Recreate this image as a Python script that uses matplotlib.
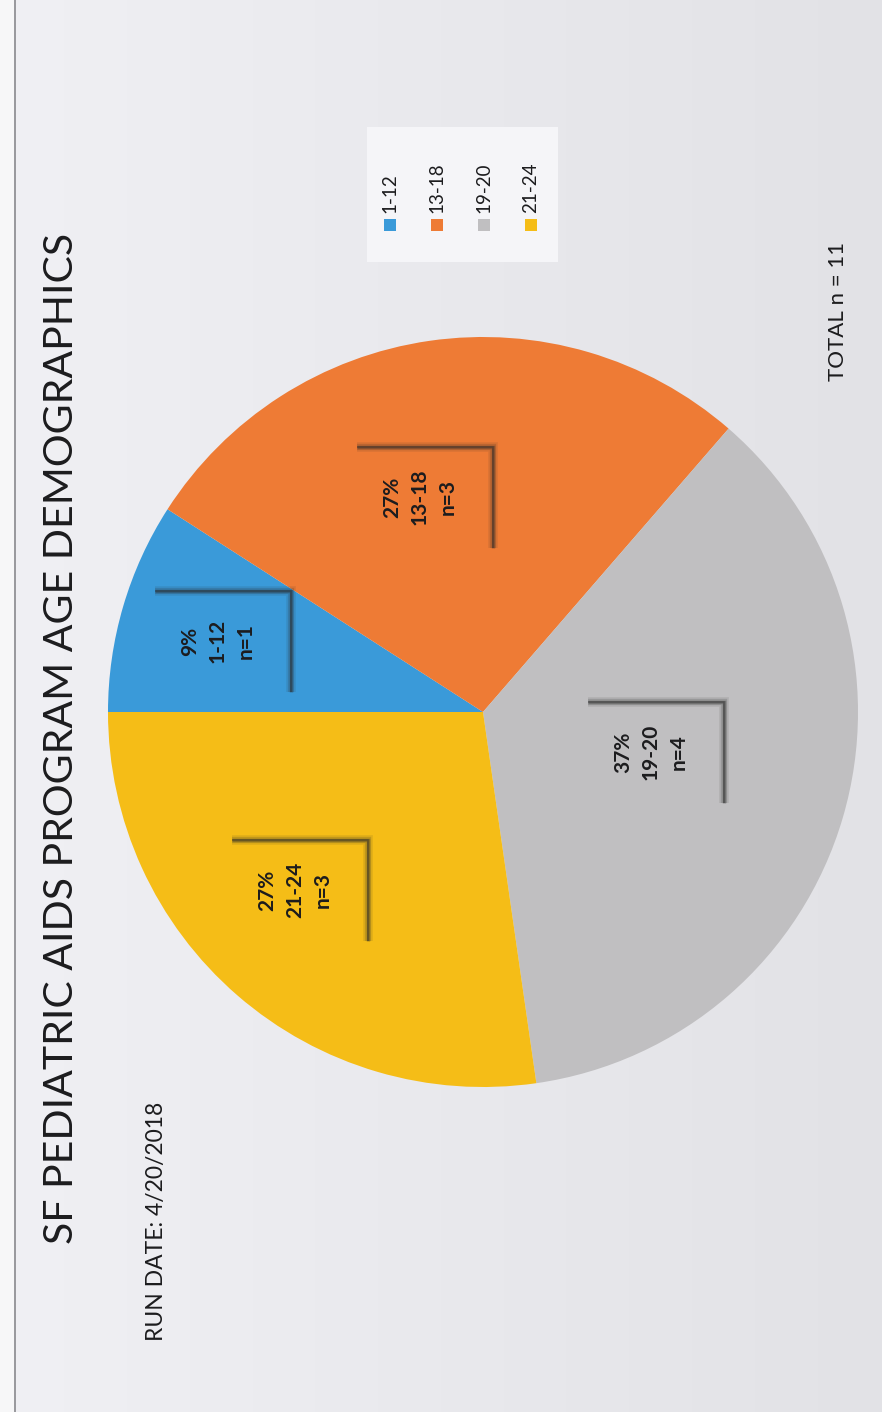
"""Age breakdown pie for the pediatric AIDS program, laid out landscape on a portrait page."""
import numpy as np
import matplotlib
import matplotlib.pyplot as plt
from matplotlib.patches import Rectangle

matplotlib.use("Agg")

# data
age_groups = ["1-12", "13-18", "19-20", "21-24"]
counts = [1, 3, 4, 3]
pct_labels = ["9%", "27%", "37%", "27%"]
colors = ["#3a9ad9", "#ee7b35", "#c0bfc1", "#f5bd17"]
total_n = 11
run_date = "4/20/2018"

W, H = 882, 1412
FONT = ["Lato", "DejaVu Sans"]
INK = "#1c1c1e"

fig = plt.figure(figsize=(W / 100, H / 100), dpi=100)

# page / background layer in pixel coordinates
bg = fig.add_axes([0, 0, 1, 1], zorder=0)
bg.set_xlim(0, W)
bg.set_ylim(H, 0)
bg.axis("off")
grad = np.linspace(0, 1, 256)[None, :]
left_c = np.array([240, 240, 244]) / 255
right_c = np.array([226, 226, 230]) / 255
img = left_c[None, None, :] * (1 - grad[..., None]) + right_c[None, None, :] * grad[..., None]
bg.imshow(img, extent=(0, W, H, 0), aspect="auto", interpolation="bicubic")
bg.add_patch(Rectangle((0, 0), 14, H, color="#f7f7f8", lw=0))
bg.plot([15, 15], [0, H], color="#8a8a8e", lw=1.2)

# pie
cx, cy, r = 483, 712, 375
pie_ax = fig.add_axes([(cx - r) / W, (H - cy - r) / H, 2 * r / W, 2 * r / H], zorder=2)
pie_ax.pie(counts, colors=colors, startangle=180, counterclock=False, radius=1,
           wedgeprops=dict(linewidth=0))
pie_ax.set_xlim(-1, 1)
pie_ax.set_ylim(-1, 1)
pie_ax.set_aspect("equal")
pie_ax.axis("off")

# callout positions (box centres in pixels)
box_centres = [(223, 641), (425, 497), (656, 752), (300, 890)]
bw, bh = 136, 101


def to_pie(px, py):
    return (px - cx) / r, (cy - py) / r


for (bx, by), pct, grp, n in zip(box_centres, pct_labels, age_groups, counts):
    x0, y0 = to_pie(bx - bw / 2, by - bh / 2)
    x1, y1 = to_pie(bx + bw / 2, by + bh / 2)
    # soft drop shadow along the top and right edges
    for lw, a in [(7, 0.10), (4.5, 0.18), (2.5, 0.35), (1.2, 0.45)]:
        pie_ax.plot([x0, x1, x1], [y0, y0, y1], color="#2a2a2a", lw=lw, alpha=a,
                    solid_capstyle="butt", solid_joinstyle="miter")
    tx, ty = to_pie(bx - 5, by)
    pie_ax.text(tx, ty, f"{pct}\n{grp}\nn={n}", rotation=90, rotation_mode="anchor",
                ha="center", va="center", multialignment="center", linespacing=1.5,
                fontsize=15, fontweight="bold", color=INK, family=FONT)

# title and footers
bg.text(62, 738, "SF PEDIATRIC AIDS PROGRAM AGE DEMOGRAPHICS", rotation=90,
        rotation_mode="anchor", ha="center", va="center", fontsize=29.5,
        color=INK, family=FONT)
bg.text(157, 1221, f"RUN DATE: {run_date}", rotation=90, rotation_mode="anchor",
        ha="center", va="center", fontsize=16.5, color=INK, family=FONT)
bg.text(838, 311, f"TOTAL n = {total_n}", rotation=90, rotation_mode="anchor",
        ha="center", va="center", fontsize=16, color=INK, family=FONT)

# legend, drawn by hand since it runs sideways
bg.add_patch(Rectangle((367, 127), 191, 135, color="#f5f5f8", lw=0, zorder=1))
for i, (grp, col) in enumerate(zip(age_groups, colors)):
    lx = 390 + i * 47
    bg.add_patch(Rectangle((lx - 6, 219), 12, 12, color=col, lw=0, zorder=2))
    bg.text(lx, 213, grp, rotation=90, rotation_mode="anchor", ha="left", va="center",
            fontsize=13.5, color=INK, family=FONT, zorder=3)

fig.savefig("out.png", dpi=100)
plt.close(fig)
